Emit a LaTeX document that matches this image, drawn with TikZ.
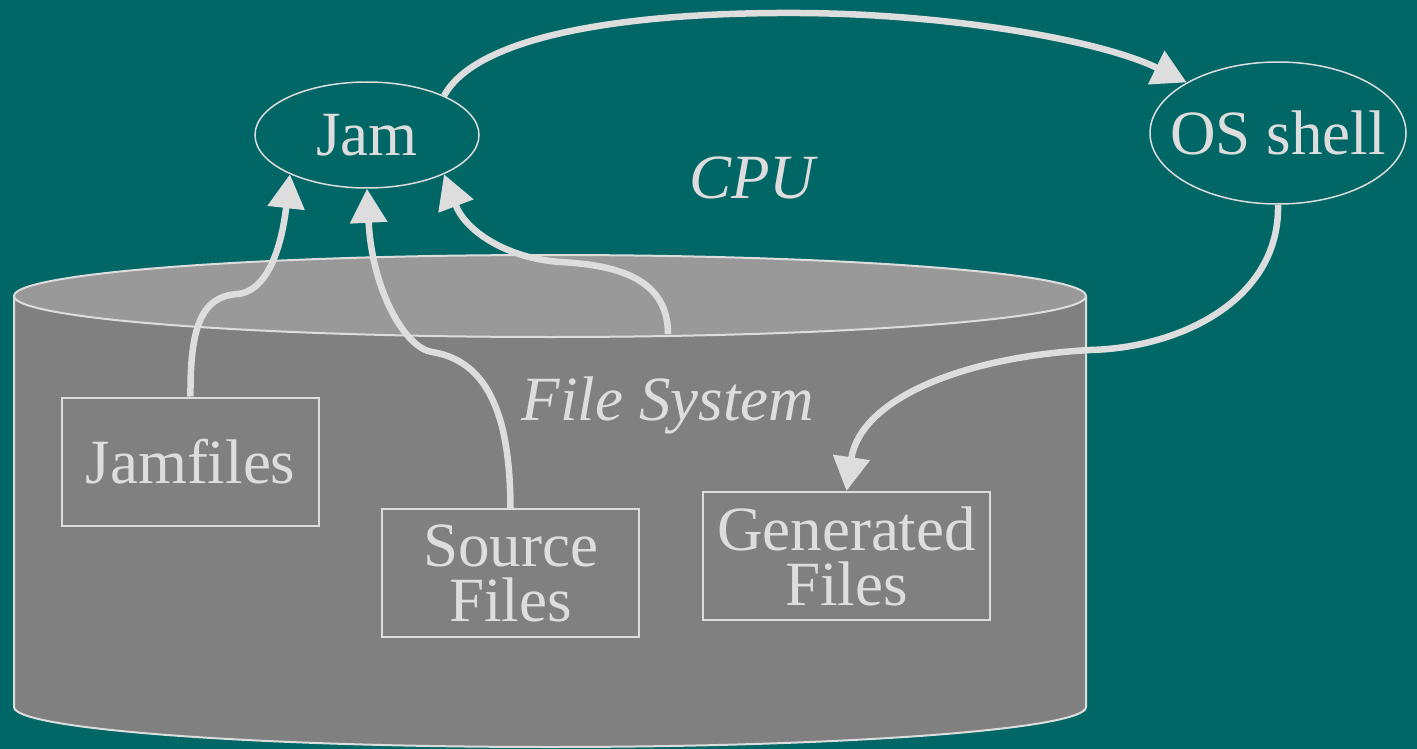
\documentclass[tikz,border=0pt]{standalone}
\usepackage{fontspec}
\setmainfont{Liberation Serif}
\usetikzlibrary{arrows.meta}
\usetikzlibrary{shapes.geometric}
\definecolor{backdrop}{HTML}{006666}
\definecolor{fsside}{HTML}{808080}
\definecolor{fstop}{HTML}{999999}
\definecolor{ink}{HTML}{DDDDDD}

\begin{document}
\begin{tikzpicture}[
    x=1pt, y=-1pt,
    >={Triangle[length=34pt, width=36pt]},
    font=\fontsize{63}{55}\selectfont,
    proc/.style={ellipse, draw=ink, line width=1.5pt, text=ink, inner sep=0pt},
    filebox/.style={rectangle, draw=ink, line width=2pt, text=ink, align=center,
                    minimum height=128pt, inner sep=0pt},
    zonelabel/.style={text=ink, font=\fontsize{63}{55}\selectfont\itshape},
    link/.style={->, draw=ink, line width=6.5pt},
]

% ── Page and background ──
\useasboundingbox (0,0) rectangle (1417,749);
\fill[backdrop] (0,0) rectangle (1417,749);

% ── File system cylinder ──
\def\cylL{14}     % left side
\def\cylR{1086}   % right side
\def\cylT{296}    % centre of top face
\def\cylB{707}    % centre of bottom face
\filldraw[fill=fsside, draw=ink, line width=2pt]
    (\cylL,\cylT) -- (\cylL,\cylB) arc[start angle=180, end angle=0, x radius=536, y radius=40]
    -- (\cylR,\cylT);
\filldraw[fill=fstop, draw=ink, line width=2pt] (550,\cylT) ellipse [x radius=536, y radius=41];
\coordinate (fsmouth) at (668,334);

% ── Labels ──
\node[zonelabel] (cpu) at (752,178) {CPU};
\node[zonelabel] (fs)  at (668,405) {File System};

% ── Processes ──
\node[proc, minimum width=224pt, minimum height=106pt] (jam) at (367,135) {Jam};
\node[proc, minimum width=256pt, minimum height=142pt, inner xsep=-40pt] (shell) at (1278,133) {OS shell};

% ── Files ──
\node[filebox, minimum width=257pt] (jamfiles)  at (190.5,461.5) {Jamfiles};
\node[filebox, minimum width=257pt] (source)    at (510.5,573)   {Source\\Files};
\node[filebox, minimum width=287pt] (generated) at (846.5,556)   {Generated\\Files};

% ── Reads into Jam ──
\draw[link] (jamfiles.north) .. controls (190,330) and (200,296) .. (238,294)
    .. controls (272,290) and (283,235) .. (jam.207);
\draw[link] (source.north) .. controls (510,430) and (495,362) .. (432,352)
    .. controls (405,348) and (372,290) .. (jam.south);
\draw[link] (fsmouth) .. controls (668,280) and (620,265) .. (560,262)
    .. controls (505,258) and (465,230) .. (jam.333);

% ── Jam runs the shell, the shell writes files ──
\draw[link] (jam.27) .. controls (480,30) and (650,12) .. (800,13)
    .. controls (950,14) and (1100,40) .. (shell.151);
\draw[link] (shell.south) .. controls (1280,300) and (1180,348) .. (1090,350)
    .. controls (960,357) and (860,400) .. (generated.north);

\end{tikzpicture}
\end{document}
